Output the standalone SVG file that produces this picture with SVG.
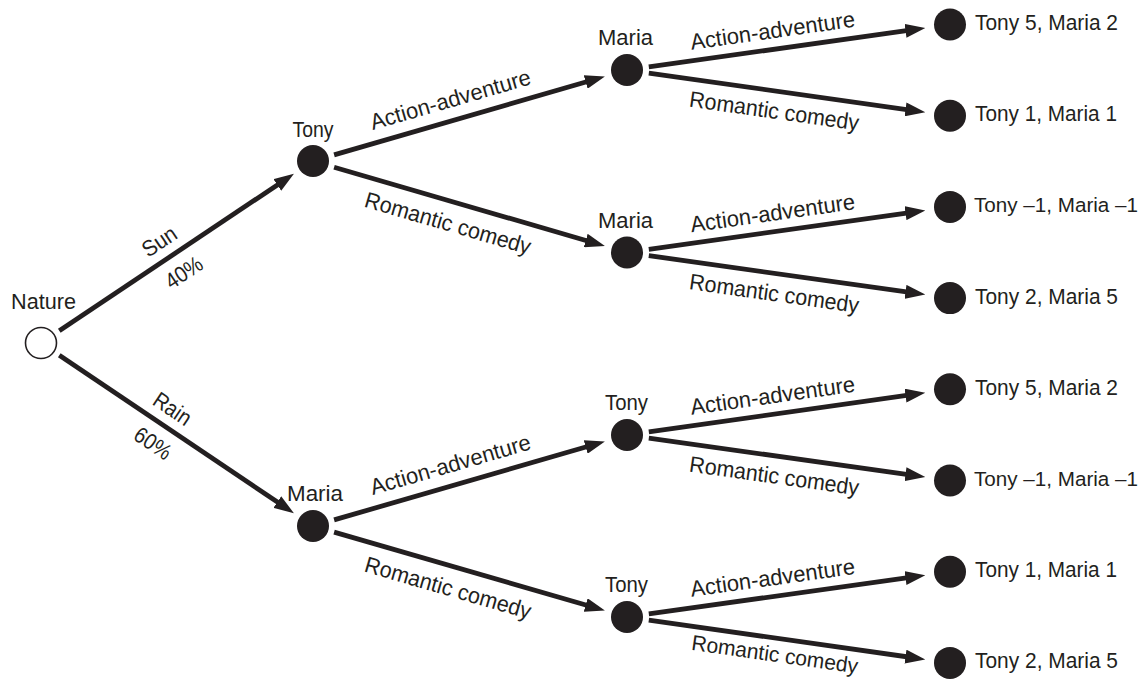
<svg xmlns="http://www.w3.org/2000/svg" width="1145" height="679" viewBox="0 0 1145 679">
  <style>
    text { font-family: "Liberation Sans", Arial, sans-serif; font-size: 22.5px; fill: #231f20; }
    .node { fill: #231f20; }
    .root { fill: #ffffff; stroke: #231f20; stroke-width: 1.6; }
    .edge { stroke: #231f20; stroke-width: 4.8; fill: none; marker-end: url(#arrow); }
    .mid { text-anchor: middle; }
    .wide { font-size: 20.5px; }
  </style>
  <defs>
    <marker id="arrow" markerUnits="userSpaceOnUse" viewBox="0 0 20 14" markerWidth="20" markerHeight="14" refX="10" refY="7" orient="auto">
      <path d="M0,0 L20,7 L0,14 Z" fill="#231f20"/>
    </marker>
  </defs>
  <rect width="1145" height="679" fill="#ffffff"/>

  <!-- connectors: lines stop 10px short of the tip; the marker supplies the head -->
  <g id="connectors">
    <line class="edge" x1="59.3" y1="330.8" x2="285.6" y2="179.4"/>
    <line class="edge" x1="59.3" y1="355.3" x2="285.6" y2="507.6"/>

    <line class="edge" x1="334.1" y1="154.9" x2="595.3" y2="79.2"/>
    <line class="edge" x1="334.1" y1="167.2" x2="595.3" y2="243.3"/>
    <line class="edge" x1="334.1" y1="519.9" x2="595.3" y2="444.2"/>
    <line class="edge" x1="334.1" y1="532.1" x2="595.3" y2="607.8"/>

    <line class="edge" x1="648.8" y1="66.9" x2="915.4" y2="29.4"/>
    <line class="edge" x1="648.8" y1="73.1" x2="915.4" y2="110.8"/>
    <line class="edge" x1="648.8" y1="249.4" x2="915.4" y2="211.8"/>
    <line class="edge" x1="648.8" y1="255.6" x2="915.4" y2="293.2"/>
    <line class="edge" x1="648.8" y1="431.9" x2="915.4" y2="394.2"/>
    <line class="edge" x1="648.8" y1="438.1" x2="915.4" y2="475.6"/>
    <line class="edge" x1="648.8" y1="613.9" x2="915.4" y2="576.6"/>
    <line class="edge" x1="648.8" y1="620.1" x2="915.4" y2="658.0"/>

    <!-- edge labels, rotated to follow their lines -->
    <g id="edge-labels">
      <text class="mid" transform="translate(169.7,256.9) rotate(-33.79)" y="-11" textLength="37" lengthAdjust="spacingAndGlyphs">Sun</text>
      <text class="mid" transform="translate(172.3,255.2) rotate(-33.79)" y="28.5" textLength="40" lengthAdjust="spacingAndGlyphs">40%</text>
      <text class="mid" transform="translate(162.0,424.4) rotate(33.94)" y="-11" textLength="41" lengthAdjust="spacingAndGlyphs">Rain</text>
      <text class="mid" transform="translate(164.5,426.1) rotate(33.94)" y="28.5" textLength="40" lengthAdjust="spacingAndGlyphs">60%</text>

      <text class="mid" transform="translate(456.1,119.5) rotate(-16.16)" y="-13" textLength="166" lengthAdjust="spacingAndGlyphs">Action-adventure</text>
      <text class="mid" transform="translate(454.1,202.2) rotate(16.25)" y="29.5" textLength="172" lengthAdjust="spacingAndGlyphs">Romantic comedy</text>
      <text class="mid" transform="translate(456.1,484.5) rotate(-16.16)" y="-13" textLength="166" lengthAdjust="spacingAndGlyphs">Action-adventure</text>
      <text class="mid" transform="translate(454.1,566.9) rotate(16.16)" y="29.5" textLength="172" lengthAdjust="spacingAndGlyphs">Romantic comedy</text>

      <text class="mid" transform="translate(775.2,49.1) rotate(-8.02)" y="-11" textLength="166" lengthAdjust="spacingAndGlyphs">Action-adventure</text>
      <text class="mid" transform="translate(777.1,91.3) rotate(8.05)" y="27.5" textLength="171" lengthAdjust="spacingAndGlyphs">Romantic comedy</text>
      <text class="mid" transform="translate(775.2,231.6) rotate(-8.04)" y="-11" textLength="166" lengthAdjust="spacingAndGlyphs">Action-adventure</text>
      <text class="mid" transform="translate(777.1,273.8) rotate(8.04)" y="27.5" textLength="171" lengthAdjust="spacingAndGlyphs">Romantic comedy</text>
      <text class="mid" transform="translate(775.2,414.1) rotate(-8.05)" y="-11" textLength="166" lengthAdjust="spacingAndGlyphs">Action-adventure</text>
      <text class="mid" transform="translate(777.1,456.2) rotate(8.02)" y="27.5" textLength="171" lengthAdjust="spacingAndGlyphs">Romantic comedy</text>
      <text class="mid" transform="translate(775.2,596.2) rotate(-7.98)" y="-11" textLength="166" lengthAdjust="spacingAndGlyphs">Action-adventure</text>
      <text class="mid" transform="translate(777.1,638.4) rotate(8.09)" y="23.5" textLength="168" lengthAdjust="spacingAndGlyphs" style="font-size:21.5px">Romantic comedy</text>
    </g>
  </g>

  <!-- chance node -->
  <g id="nature">
    <circle class="root" cx="41" cy="343" r="15.5"/>
    <text class="mid" x="43.5" y="308.5" textLength="65" lengthAdjust="spacingAndGlyphs">Nature</text>
  </g>

  <!-- first movers -->
  <g id="tony-sun">
    <circle class="node" cx="313" cy="161" r="16"/>
    <text class="mid" x="313" y="137" textLength="41" lengthAdjust="spacingAndGlyphs">Tony</text>
  </g>
  <g id="maria-rain">
    <circle class="node" cx="313" cy="526" r="16"/>
    <text class="mid" x="315" y="500.5" textLength="56" lengthAdjust="spacingAndGlyphs">Maria</text>
  </g>

  <!-- second movers -->
  <g id="maria-sun-action">
    <circle class="node" cx="627" cy="70" r="16"/>
    <text class="mid" x="625.5" y="45" textLength="55" lengthAdjust="spacingAndGlyphs">Maria</text>
  </g>
  <g id="maria-sun-romance">
    <circle class="node" cx="627" cy="252.5" r="16"/>
    <text class="mid" x="625.5" y="227.5" textLength="55" lengthAdjust="spacingAndGlyphs">Maria</text>
  </g>
  <g id="tony-rain-action">
    <circle class="node" cx="627" cy="435" r="16"/>
    <text class="mid" x="626.5" y="410" textLength="43" lengthAdjust="spacingAndGlyphs">Tony</text>
  </g>
  <g id="tony-rain-romance">
    <circle class="node" cx="627" cy="617" r="16"/>
    <text class="mid" x="626.5" y="592" textLength="43" lengthAdjust="spacingAndGlyphs">Tony</text>
  </g>

  <!-- payoffs -->
  <g id="payoff-1">
    <circle class="node" cx="950" cy="24.5" r="16"/>
    <text x="975" y="30" textLength="143" lengthAdjust="spacingAndGlyphs">Tony 5, Maria 2</text>
  </g>
  <g id="payoff-2">
    <circle class="node" cx="950" cy="115.7" r="16"/>
    <text x="975" y="121.2" textLength="142" lengthAdjust="spacingAndGlyphs">Tony 1, Maria 1</text>
  </g>
  <g id="payoff-3">
    <circle class="node" cx="950" cy="206.9" r="16"/>
    <text class="wide" x="974" y="212.4" textLength="164" lengthAdjust="spacingAndGlyphs">Tony –1, Maria –1</text>
  </g>
  <g id="payoff-4">
    <circle class="node" cx="950" cy="298.1" r="16"/>
    <text x="975" y="303.6" textLength="143" lengthAdjust="spacingAndGlyphs">Tony 2, Maria 5</text>
  </g>
  <g id="payoff-5">
    <circle class="node" cx="950" cy="389.3" r="16"/>
    <text x="975" y="394.8" textLength="143" lengthAdjust="spacingAndGlyphs">Tony 5, Maria 2</text>
  </g>
  <g id="payoff-6">
    <circle class="node" cx="950" cy="480.5" r="16"/>
    <text class="wide" x="974" y="486" textLength="164" lengthAdjust="spacingAndGlyphs">Tony –1, Maria –1</text>
  </g>
  <g id="payoff-7">
    <circle class="node" cx="950" cy="571.7" r="16"/>
    <text x="975" y="577.2" textLength="142" lengthAdjust="spacingAndGlyphs">Tony 1, Maria 1</text>
  </g>
  <g id="payoff-8">
    <circle class="node" cx="950" cy="662.9" r="16"/>
    <text x="975" y="668.4" textLength="143" lengthAdjust="spacingAndGlyphs">Tony 2, Maria 5</text>
  </g>
</svg>
